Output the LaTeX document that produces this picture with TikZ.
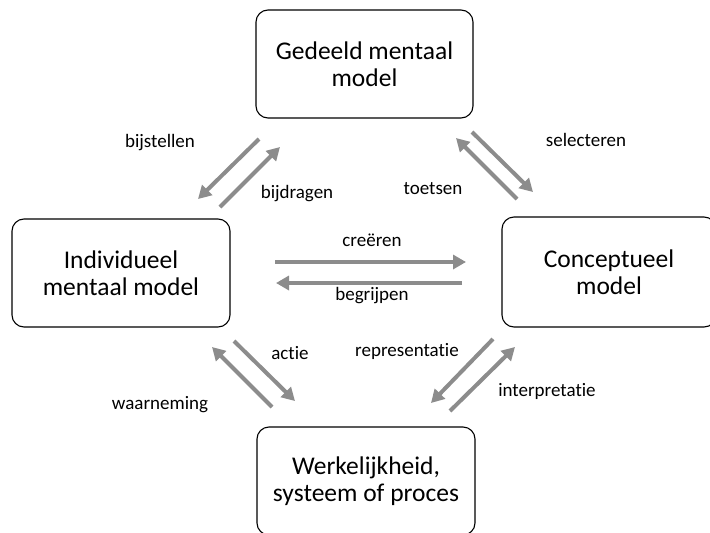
\documentclass[tikz,border=0pt]{standalone}
\usepackage{fontspec}
\setmainfont{Carlito}[Ligatures={NoCommon}]
\usetikzlibrary{arrows.meta}
\definecolor{arrowgray}{RGB}{140,140,140}
\tikzset{
  box/.style={draw=black, line width=1.1pt, rounded corners=12pt, align=center,
    font=\fontsize{25.5}{27.5}\selectfont, inner sep=0pt},
  flow/.style={draw=arrowgray, line width=4pt,
    -{Triangle[length=13pt,width=14pt]}},
  lbl/.style={font=\fontsize{19}{21}\selectfont, inner sep=0pt}
}
\begin{document}
\begin{tikzpicture}[x=1pt,y=-1pt]
  \useasboundingbox (0,0) rectangle (710,533);
  \clip (0,0) rectangle (710,533);

  % the four models
  \node[box, minimum width=217pt, minimum height=108pt] (shared) at (364.5,64) {Gedeeld mentaal\\model};
  \node[box, minimum width=218pt, minimum height=108pt] (indiv) at (121,273) {Individueel\\mentaal model};
  \node[box, minimum width=214pt, minimum height=110pt] (concept) at (609,272) {Conceptueel\\model};
  \node[box, minimum width=218pt, minimum height=108pt] (real) at (366,481) {Werkelijkheid,\\systeem of proces};

  % arrow end points
  \coordinate (a1s) at (259,139); \coordinate (a1e) at (198,199);
  \coordinate (a2s) at (220,207); \coordinate (a2e) at (280,147);
  \coordinate (b1s) at (517,199); \coordinate (b1e) at (456,138);
  \coordinate (b2s) at (472,132); \coordinate (b2e) at (533,192);
  \coordinate (c1s) at (275,262); \coordinate (c1e) at (466,262);
  \coordinate (c2s) at (462,283); \coordinate (c2e) at (276,283);
  \coordinate (d1s) at (272,407); \coordinate (d1e) at (212,347);
  \coordinate (d2s) at (234,341); \coordinate (d2e) at (295,401);
  \coordinate (e1s) at (493,339); \coordinate (e1e) at (431,403);
  \coordinate (e2s) at (450,411); \coordinate (e2e) at (515,347);

  % connectors
  \draw[flow] (a1s) -- (a1e);
  \draw[flow] (a2s) -- (a2e);
  \draw[flow] (b1s) -- (b1e);
  \draw[flow] (b2s) -- (b2e);
  \draw[flow] (c1s) -- (c1e);
  \draw[flow] (c2s) -- (c2e);
  \draw[flow] (d1s) -- (d1e);
  \draw[flow] (d2s) -- (d2e);
  \draw[flow] (e1s) -- (e1e);
  \draw[flow] (e2s) -- (e2e);

  % labels
  \node[lbl] (l1) at (160,143) {bijstellen};
  \node[lbl] (l2) at (297,194) {bijdragen};
  \node[lbl] (l3) at (433,189) {toetsen};
  \node[lbl] (l4) at (586,140) {selecteren};
  \node[lbl] (l5) at (372,240) {creëren};
  \node[lbl] (l6) at (372,296) {begrijpen};
  \node[lbl] (l7) at (290,353) {actie};
  \node[lbl] (l8) at (407,351) {representatie};
  \node[lbl] (l9) at (160,405) {waarneming};
  \node[lbl] (l10) at (547,391) {interpretatie};
\end{tikzpicture}
\end{document}
